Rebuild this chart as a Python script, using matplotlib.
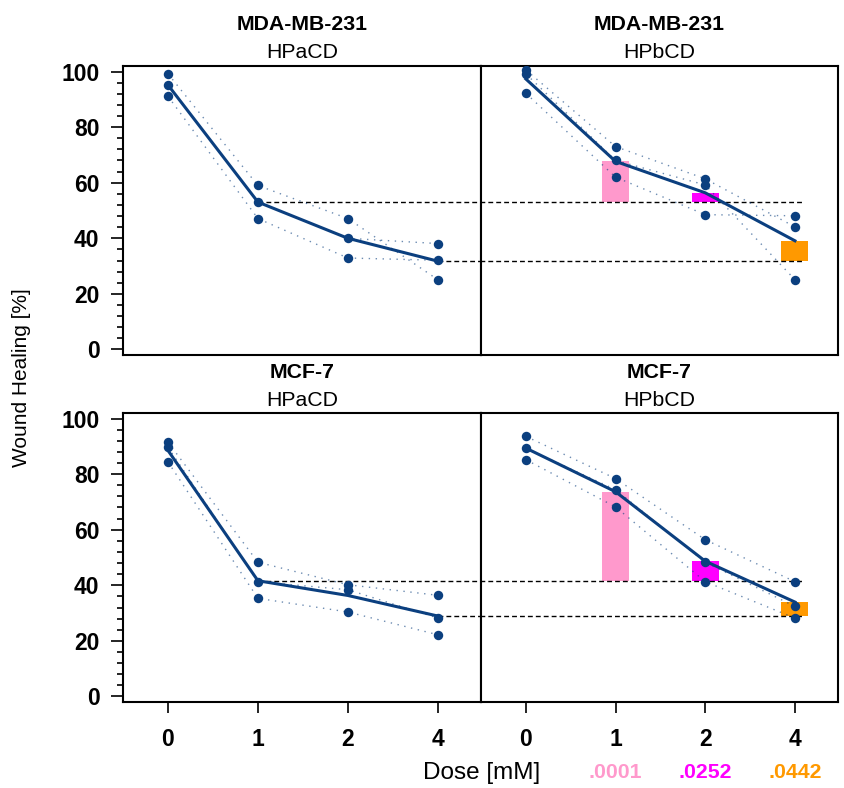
import matplotlib
matplotlib.use("Agg")
import matplotlib.pyplot as plt
import matplotlib.transforms as mtransforms
from matplotlib.ticker import MultipleLocator, FixedLocator
import numpy as np

plt.rcParams['font.family'] = ['Liberation Sans', 'DejaVu Sans']

# ---------------- data ----------------
doses = ['0', '1', '2', '4']
cell_lines = ['MDA-MB-231', 'MCF-7']
agents = ['HPaCD', 'HPbCD']

# replicate traces (each list = one replicate over doses 0,1,2,4)
mda_hpacd_reps = [[99.2, 59.0, 47.1, 25.1],
                  [95.2, 53.0, 40.0, 38.1],
                  [91.1, 47.1, 32.9, 32.1]]
mda_hpbcd_reps = [[100.6, 73.0, 61.4, 44.1],
                  [99.2, 68.0, 59.2, 25.1],
                  [92.2, 62.0, 48.5, 48.1]]
mcf_hpacd_reps = [[91.5, 48.3, 40.2, 36.4],
                  [89.7, 41.3, 38.4, 28.2],
                  [84.4, 35.3, 30.4, 22.2]]
mcf_hpbcd_reps = [[93.6, 78.4, 56.4, 41.3],
                  [89.3, 74.4, 48.3, 32.4],
                  [85.2, 68.2, 41.3, 28.2]]

# comparison bars in HPbCD panels: dose index and the HPaCD dose index used as reference
bar_dose_idx = [1, 2, 3]
bar_ref_idx = [1, 1, 3]
p_values = ['.0001', '.0252', '.0442']
p_colors = ['#FF99CC', '#FF00FF', '#FF9900']

ylabel = 'Wound Healing [%]'
xlabel = 'Dose [mM]'

# ---------------- style ----------------
W, H = 844, 788
BLUE = '#0B3F7F'
fig = plt.figure(figsize=(W / 100, H / 100), dpi=100)


def rect(x0, y0, x1, y1):
    return [x0 / W, 1 - y1 / H, (x1 - x0) / W, (y1 - y0) / H]


xl, xm, xr = 123, 481, 838
rows_y = [(66, 355), (413, 702)]

axes = {}
for r, (yt, yb) in enumerate(rows_y):
    for c, (xa, xb) in enumerate([(xl, xm), (xm, xr)]):
        axes[(r, c)] = fig.add_axes(rect(xa, yt, xb, yb))

x = np.arange(len(doses))
data = {(0, 0): mda_hpacd_reps, (0, 1): mda_hpbcd_reps,
        (1, 0): mcf_hpacd_reps, (1, 1): mcf_hpbcd_reps}

for (r, c), ax in axes.items():
    reps = np.array(data[(r, c)])
    means = reps.mean(axis=0)
    ref_means = np.array(data[(r, 0)]).mean(axis=0)

    ax.set_xlim(-0.5, 3.48)
    ax.set_ylim(-2, 102)

    # comparison bars
    if c == 1:
        for bi, ri, col in zip(bar_dose_idx, bar_ref_idx, p_colors):
            base = ref_means[ri]
            ax.bar(x[bi], means[bi] - base, bottom=base, width=0.3,
                   color=col, zorder=1, linewidth=0)

    # dashed reference lines
    for ri in sorted(set(bar_ref_idx)):
        lvl = ref_means[ri]
        if c == 0:
            ax.plot([x[ri], 3.6], [lvl, lvl], color='black', lw=1.0,
                    dashes=(3.5, 2.2), zorder=2, clip_on=True)
        else:
            ax.plot([-0.6, 3.1], [lvl, lvl], color='black', lw=1.0,
                    dashes=(3.5, 2.2), zorder=2, clip_on=True)

    # replicate dotted traces
    for rep in reps:
        ax.plot(x, rep, color=BLUE, lw=1.0, linestyle=(0, (1, 4)),
                alpha=0.6, zorder=3)
    # mean line
    ax.plot(x, means, color=BLUE, lw=2.2, zorder=4)
    # points
    for rep in reps:
        ax.plot(x, rep, 'o', color=BLUE, ms=6.8, mec='none', zorder=5)

    for s in ax.spines.values():
        s.set_linewidth(1.5)
        s.set_color('black')

    # ticks
    if c == 0:
        ax.yaxis.set_major_locator(FixedLocator([0, 20, 40, 60, 80, 100]))
        ax.yaxis.set_minor_locator(MultipleLocator(4))
        ax.tick_params(axis='y', which='major', length=8.5, width=1.2,
                       labelsize=16.5, pad=8.5, direction='out')
        ax.tick_params(axis='y', which='minor', length=4.5, width=1.2,
                       direction='out')
        for lab in ax.get_yticklabels():
            lab.set_fontweight('bold')
    else:
        ax.set_yticks([])
    if r == 1:
        ax.set_xticks(x)
        ax.set_xticklabels(doses, fontsize=16.5, fontweight='bold')
        ax.tick_params(axis='x', length=8, width=1.2, pad=10.5, direction='out')
    else:
        ax.set_xticks([])

    # titles
    cx = (ax.get_position().x0 + ax.get_position().x1) / 2
    t1_y, t2_y = (25, 52) if r == 0 else (373, 400)
    fig.text(cx, 1 - t1_y / H, cell_lines[r], ha='center', va='center',
             fontsize=15.3, fontweight='bold')
    fig.text(cx, 1 - t2_y / H, agents[c], ha='center', va='center',
             fontsize=15.3)

# axis labels
fig.text(22 / W, 1 - 378 / H, ylabel, rotation=90, ha='center', va='center',
         fontsize=15)
fig.text(482 / W, 1 - 773 / H, xlabel, ha='center', va='center', fontsize=17.5)

# p-values under HPbCD doses
ax_br = axes[(1, 1)]
trans = mtransforms.blended_transform_factory(ax_br.transData, fig.transFigure)
for bi, pv, col in zip(bar_dose_idx, p_values, p_colors):
    fig.text(x[bi], 1 - 773 / H, pv, transform=trans, ha='center', va='center',
             fontsize=15.3, fontweight='bold', color=col)

fig.savefig('out.png', dpi=100)
